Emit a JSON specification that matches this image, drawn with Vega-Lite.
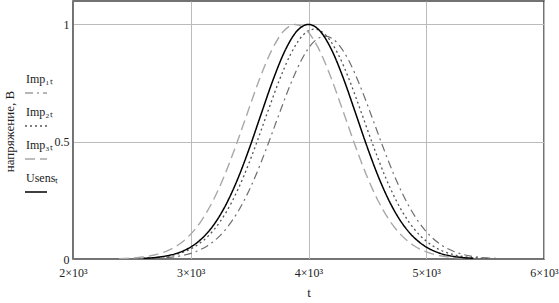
{
  "$schema": "https://vega.github.io/schema/vega-lite/v6.json",
  "width": 471,
  "height": 258,
  "autosize": "none",
  "padding": {"left": 73, "top": 1, "right": 15, "bottom": 44},
  "background": "white",
  "config": {
    "font": "Liberation Serif",
    "view": {"stroke": "#444444", "strokeWidth": 1.5},
    "axis": {"labelFont": "Liberation Serif", "titleFont": "Liberation Serif", "labelColor": "#222", "titleColor": "#222", "titleFontWeight": "normal", "labelFontSize": 12, "titleFontSize": 13, "gridColor": "#bbbbbb", "gridWidth": 1, "ticks": false, "domainColor": "#777777"}
  },
  "data": {"values": [
    {"t":2640,"v":0.0016,"s":"Imp₁ₜ"},{"t":2740,"v":0.0037,"s":"Imp₁ₜ"},{"t":2840,"v":0.0079,"s":"Imp₁ₜ"},{"t":2940,"v":0.016,"s":"Imp₁ₜ"},{"t":3040,"v":0.0308,"s":"Imp₁ₜ"},{"t":3140,"v":0.0558,"s":"Imp₁ₜ"},{"t":3240,"v":0.0956,"s":"Imp₁ₜ"},{"t":3340,"v":0.1548,"s":"Imp₁ₜ"},{"t":3440,"v":0.2369,"s":"Imp₁ₜ"},{"t":3540,"v":0.3424,"s":"Imp₁ₜ"},{"t":3640,"v":0.4677,"s":"Imp₁ₜ"},{"t":3740,"v":0.6036,"s":"Imp₁ₜ"},{"t":3840,"v":0.736,"s":"Imp₁ₜ"},{"t":3940,"v":0.8482,"s":"Imp₁ₜ"},{"t":4040,"v":0.9235,"s":"Imp₁ₜ"},{"t":4140,"v":0.95,"s":"Imp₁ₜ"},{"t":4240,"v":0.9235,"s":"Imp₁ₜ"},{"t":4340,"v":0.8482,"s":"Imp₁ₜ"},{"t":4440,"v":0.736,"s":"Imp₁ₜ"},{"t":4540,"v":0.6036,"s":"Imp₁ₜ"},{"t":4640,"v":0.4677,"s":"Imp₁ₜ"},{"t":4740,"v":0.3424,"s":"Imp₁ₜ"},{"t":4840,"v":0.2369,"s":"Imp₁ₜ"},{"t":4940,"v":0.1548,"s":"Imp₁ₜ"},{"t":5040,"v":0.0956,"s":"Imp₁ₜ"},{"t":5140,"v":0.0558,"s":"Imp₁ₜ"},{"t":5240,"v":0.0308,"s":"Imp₁ₜ"},{"t":5340,"v":0.016,"s":"Imp₁ₜ"},{"t":5440,"v":0.0079,"s":"Imp₁ₜ"},{"t":5540,"v":0.0037,"s":"Imp₁ₜ"},{"t":5640,"v":0.0016,"s":"Imp₁ₜ"},
    {"t":2550,"v":0.0017,"s":"Imp₂ₜ"},{"t":2650,"v":0.0038,"s":"Imp₂ₜ"},{"t":2750,"v":0.0081,"s":"Imp₂ₜ"},{"t":2850,"v":0.0165,"s":"Imp₂ₜ"},{"t":2950,"v":0.0317,"s":"Imp₂ₜ"},{"t":3050,"v":0.0576,"s":"Imp₂ₜ"},{"t":3150,"v":0.0987,"s":"Imp₂ₜ"},{"t":3250,"v":0.1597,"s":"Imp₂ₜ"},{"t":3350,"v":0.2444,"s":"Imp₂ₜ"},{"t":3450,"v":0.3532,"s":"Imp₂ₜ"},{"t":3550,"v":0.4825,"s":"Imp₂ₜ"},{"t":3650,"v":0.6227,"s":"Imp₂ₜ"},{"t":3750,"v":0.7593,"s":"Imp₂ₜ"},{"t":3850,"v":0.875,"s":"Imp₂ₜ"},{"t":3950,"v":0.9526,"s":"Imp₂ₜ"},{"t":4050,"v":0.98,"s":"Imp₂ₜ"},{"t":4150,"v":0.9526,"s":"Imp₂ₜ"},{"t":4250,"v":0.875,"s":"Imp₂ₜ"},{"t":4350,"v":0.7593,"s":"Imp₂ₜ"},{"t":4450,"v":0.6227,"s":"Imp₂ₜ"},{"t":4550,"v":0.4825,"s":"Imp₂ₜ"},{"t":4650,"v":0.3532,"s":"Imp₂ₜ"},{"t":4750,"v":0.2444,"s":"Imp₂ₜ"},{"t":4850,"v":0.1597,"s":"Imp₂ₜ"},{"t":4950,"v":0.0987,"s":"Imp₂ₜ"},{"t":5050,"v":0.0576,"s":"Imp₂ₜ"},{"t":5150,"v":0.0317,"s":"Imp₂ₜ"},{"t":5250,"v":0.0165,"s":"Imp₂ₜ"},{"t":5350,"v":0.0081,"s":"Imp₂ₜ"},{"t":5450,"v":0.0038,"s":"Imp₂ₜ"},{"t":5550,"v":0.0017,"s":"Imp₂ₜ"},
    {"t":2390,"v":0.0017,"s":"Imp₃ₜ"},{"t":2490,"v":0.0039,"s":"Imp₃ₜ"},{"t":2590,"v":0.0083,"s":"Imp₃ₜ"},{"t":2690,"v":0.0169,"s":"Imp₃ₜ"},{"t":2790,"v":0.0324,"s":"Imp₃ₜ"},{"t":2890,"v":0.0587,"s":"Imp₃ₜ"},{"t":2990,"v":0.1007,"s":"Imp₃ₜ"},{"t":3090,"v":0.163,"s":"Imp₃ₜ"},{"t":3190,"v":0.2494,"s":"Imp₃ₜ"},{"t":3290,"v":0.3604,"s":"Imp₃ₜ"},{"t":3390,"v":0.4923,"s":"Imp₃ₜ"},{"t":3490,"v":0.6354,"s":"Imp₃ₜ"},{"t":3590,"v":0.7748,"s":"Imp₃ₜ"},{"t":3690,"v":0.8928,"s":"Imp₃ₜ"},{"t":3790,"v":0.9721,"s":"Imp₃ₜ"},{"t":3890,"v":1.0,"s":"Imp₃ₜ"},{"t":3990,"v":0.9721,"s":"Imp₃ₜ"},{"t":4090,"v":0.8928,"s":"Imp₃ₜ"},{"t":4190,"v":0.7748,"s":"Imp₃ₜ"},{"t":4290,"v":0.6354,"s":"Imp₃ₜ"},{"t":4390,"v":0.4923,"s":"Imp₃ₜ"},{"t":4490,"v":0.3604,"s":"Imp₃ₜ"},{"t":4590,"v":0.2494,"s":"Imp₃ₜ"},{"t":4690,"v":0.163,"s":"Imp₃ₜ"},{"t":4790,"v":0.1007,"s":"Imp₃ₜ"},{"t":4890,"v":0.0587,"s":"Imp₃ₜ"},{"t":4990,"v":0.0324,"s":"Imp₃ₜ"},{"t":5090,"v":0.0169,"s":"Imp₃ₜ"},{"t":5190,"v":0.0083,"s":"Imp₃ₜ"},{"t":5290,"v":0.0039,"s":"Imp₃ₜ"},{"t":5390,"v":0.0017,"s":"Imp₃ₜ"},
    {"t":2600,"v":0.0029,"s":"Usensₜ"},{"t":2700,"v":0.0066,"s":"Usensₜ"},{"t":2800,"v":0.0138,"s":"Usensₜ"},{"t":2900,"v":0.0273,"s":"Usensₜ"},{"t":3000,"v":0.0511,"s":"Usensₜ"},{"t":3100,"v":0.0899,"s":"Usensₜ"},{"t":3200,"v":0.149,"s":"Usensₜ"},{"t":3300,"v":0.2328,"s":"Usensₜ"},{"t":3400,"v":0.3427,"s":"Usensₜ"},{"t":3500,"v":0.4754,"s":"Usensₜ"},{"t":3600,"v":0.6213,"s":"Usensₜ"},{"t":3700,"v":0.7651,"s":"Usensₜ"},{"t":3800,"v":0.8878,"s":"Usensₜ"},{"t":3900,"v":0.9707,"s":"Usensₜ"},{"t":4000,"v":1.0,"s":"Usensₜ"},{"t":4100,"v":0.9707,"s":"Usensₜ"},{"t":4200,"v":0.8878,"s":"Usensₜ"},{"t":4300,"v":0.7651,"s":"Usensₜ"},{"t":4400,"v":0.6213,"s":"Usensₜ"},{"t":4500,"v":0.4754,"s":"Usensₜ"},{"t":4600,"v":0.3427,"s":"Usensₜ"},{"t":4700,"v":0.2328,"s":"Usensₜ"},{"t":4800,"v":0.149,"s":"Usensₜ"},{"t":4900,"v":0.0899,"s":"Usensₜ"},{"t":5000,"v":0.0511,"s":"Usensₜ"},{"t":5100,"v":0.0273,"s":"Usensₜ"},{"t":5200,"v":0.0138,"s":"Usensₜ"},{"t":5300,"v":0.0066,"s":"Usensₜ"},{"t":5400,"v":0.0029,"s":"Usensₜ"}
  ]},
  "mark": {"type": "line", "interpolate": "monotone", "clip": true},
  "encoding": {
    "x": {"field": "t", "type": "quantitative", "scale": {"domain": [2000, 6000], "nice": false},
      "axis": {"values": [2000, 3000, 4000, 5000, 6000], "labelExpr": "floor(datum.value/1000) + '×10³'", "title": "t", "labelPadding": 8, "titlePadding": 8, "labelFlush": false, "gridColor": "#bbbbbb"}},
    "y": {"field": "v", "type": "quantitative", "scale": {"domain": [0, 1.1], "nice": false},
      "axis": {"values": [0, 0.5, 1], "format": "~g", "title": "напряжение, В", "labelPadding": 4, "titleX": -57, "titleY": 130, "labelFlush": false}},
    "color": {"field": "s", "type": "nominal",
      "scale": {"domain": ["Imp₁ₜ", "Imp₂ₜ", "Imp₃ₜ", "Usensₜ"], "range": ["#6e6e6e", "#555555", "#a8a8a8", "#000000"]},
      "legend": {"title": null, "orient": "none", "legendX": -49, "legendY": 80, "symbolType": "stroke", "symbolSize": 484, "labelOffset": -22, "labelFont": "Liberation Serif", "labelFontSize": 12, "labelColor": "#222", "rowPadding": 10,
        "encode": {"labels": {"update": {"dy": {"value": -14}}}}}},
    "strokeDash": {"field": "s", "type": "nominal",
      "scale": {"domain": ["Imp₁ₜ", "Imp₂ₜ", "Imp₃ₜ", "Usensₜ"], "range": [[8, 4, 2, 4], [2, 3], [10, 5], [1, 0]]},
      "legend": {"title": null, "orient": "none", "legendX": -49, "legendY": 80, "symbolType": "stroke", "symbolSize": 484, "labelOffset": -22, "labelFont": "Liberation Serif", "labelFontSize": 12, "labelColor": "#222", "rowPadding": 10,
        "encode": {"labels": {"update": {"dy": {"value": -14}}}}}},
    "strokeWidth": {"field": "s", "type": "nominal",
      "scale": {"domain": ["Imp₁ₜ", "Imp₂ₜ", "Imp₃ₜ", "Usensₜ"], "range": [1.2, 1.5, 1.2, 2.5]},
      "legend": {"title": null, "orient": "none", "legendX": -49, "legendY": 80, "symbolType": "stroke", "symbolSize": 484, "labelOffset": -22, "labelFont": "Liberation Serif", "labelFontSize": 12, "labelColor": "#222", "rowPadding": 10,
        "encode": {"labels": {"update": {"dy": {"value": -14}}}}}}
  }
}
